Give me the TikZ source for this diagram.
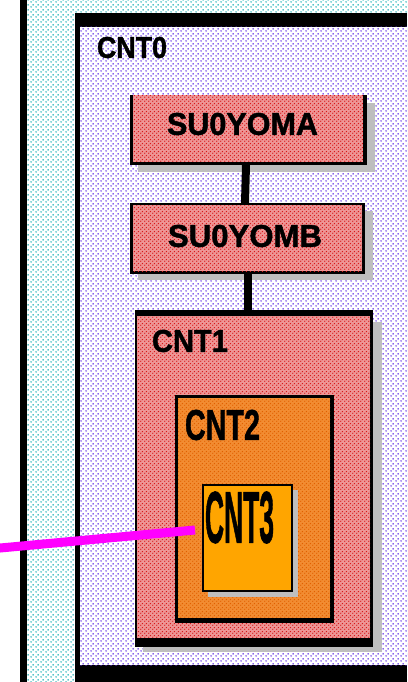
\documentclass[tikz,border=0pt]{standalone}
\usepackage{fontspec}
\setmainfont{Liberation Sans}
\newfontfamily\heavyfont{Liberation Sans}[FakeBold=1.4]
\usetikzlibrary{patterns.meta}
\definecolor{cyandot}{RGB}{20,175,180}
\definecolor{purpledot}{RGB}{95,45,230}
\definecolor{redbase}{RGB}{238,150,150}
\definecolor{reddot}{RGB}{215,25,25}
\definecolor{orangebase}{RGB}{242,140,50}
\definecolor{orangedot}{RGB}{225,95,0}
\definecolor{cntthree}{RGB}{255,165,0}
\definecolor{shadowgray}{RGB}{190,190,190}
\definecolor{magline}{RGB}{255,0,255}
\tikzdeclarepattern{name=dotgrid, type=uncolored,
  bottom left={(0pt,0pt)}, top right={(5pt,5pt)}, tile size={(5pt,5pt)},
  code={\fill (1.25pt,1.25pt) circle (0.95pt); \fill (3.75pt,3.75pt) circle (0.95pt);}}
\tikzdeclarepattern{name=finedots, type=uncolored,
  bottom left={(0pt,0pt)}, top right={(4pt,4pt)}, tile size={(4pt,4pt)},
  code={\fill (1pt,1pt) circle (0.85pt); \fill (3pt,3pt) circle (0.85pt);}}
\newcommand{\boxtxt}[3]{\resizebox{#1pt}{#2pt}{\heavyfont\bfseries #3}}
\begin{document}
\begin{tikzpicture}[x=1pt,y=-1pt,
  lbl/.style={inner sep=0pt, outer sep=0pt, text=black},
  frame/.style={inner sep=0pt, outer sep=0pt},
  link/.style={line width=8pt, black},
  shadow/.style={fill=shadowgray},
  redfill/.style={fill=redbase, postaction={pattern=finedots, pattern color=reddot}},
  orangefill/.style={fill=orangebase, postaction={pattern=finedots, pattern color=orangedot}}
  ]
\useasboundingbox (0,0) rectangle (407,682);
% background / outer cyan container
\fill[white] (0,0) rectangle (407,682);
\fill[pattern=dotgrid, pattern color=cyandot] (27,0) rectangle (407,682);
\fill[black] (20,0) rectangle (27,682);
% CNT0
\fill[black] (75,13) rectangle (407,682);
\fill[white] (80,27) rectangle (407,665);
\fill[pattern=dotgrid, pattern color=purpledot] (80,27) rectangle (407,665);
\node[lbl] (cnt0lbl) at (132,47.5) {\boxtxt{70}{21}{CNT0}};
% SU0YOMA
\fill[shadow] (138,103) rectangle (375,172);
\fill[black] (130,95) rectangle (367,165);
\fill[redfill] (133,95) rectangle (363,162);
\node[frame, minimum width=237pt, minimum height=70pt] (suA) at (248.5,130) {};
\node[lbl] (suAlbl) at (242.5,124) {\boxtxt{151}{22}{SU0YOMA}};
% SU0YOMB
\fill[shadow] (138,211) rectangle (373,280);
\fill[black] (130,203) rectangle (365,274);
\fill[redfill] (133,205) rectangle (362,271);
\node[frame, minimum width=235pt, minimum height=71pt] (suB) at (247.5,238.5) {};
\node[lbl] (suBlbl) at (245,236) {\boxtxt{154}{22}{SU0YOMB}};
% CNT1
\fill[shadow] (143,322) rectangle (382,652);
\fill[black] (135,310) rectangle (373,647);
\fill[redfill] (137,316) rectangle (370,638);
\node[frame, minimum width=238pt, minimum height=337pt] (cnt1) at (254,478.5) {};
\node[lbl] (cnt1lbl) at (190,341) {\boxtxt{76}{22}{CNT1}};
% CNT2
\fill[black] (175,395) rectangle (334,623);
\fill[orangefill] (178,398) rectangle (330,618);
\node[frame, minimum width=159pt, minimum height=228pt] (cnt2) at (254.5,509) {};
\node[lbl] (cnt2lbl) at (222.5,425) {\boxtxt{75}{30}{CNT2}};
% CNT3
\fill[shadow] (208,592) rectangle (298,597);
\fill[shadow] (293,490) rectangle (298,597);
\fill[black] (202,484) rectangle (293,592);
\fill[cntthree] (204,486) rectangle (291,590);
\node[frame, minimum width=91pt, minimum height=108pt] (cnt3) at (247.5,538) {};
\node[lbl] (cnt3lbl) at (239.5,517.5) {\boxtxt{69}{51}{CNT3}};
% connectors
\draw[link] ([xshift=-2.5pt]suA.south) -- ([xshift=-2.5pt]suB.north);
\draw[link] (suB.south) -- (suB.south |- cnt1.north);
\coordinate (magStart) at (-2,548.2);
\coordinate (magEnd) at ([xshift=-7pt,yshift=8pt]cnt3.west);
\draw[line width=9pt, magline] (magStart) -- (magEnd);
\end{tikzpicture}
\end{document}
